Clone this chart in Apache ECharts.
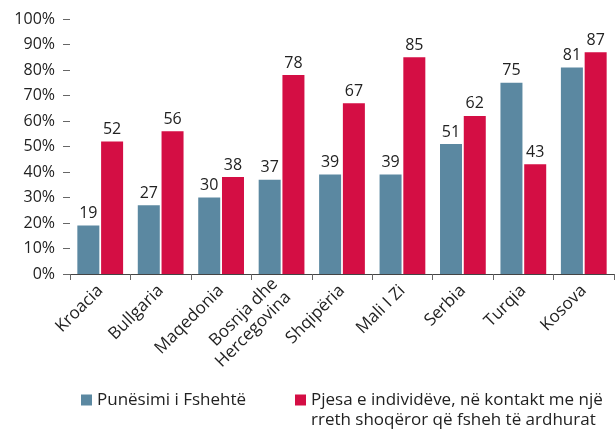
<!DOCTYPE html>
<html>
<head>
<meta charset="utf-8">
<script src="https://cdn.jsdelivr.net/npm/echarts@6/dist/echarts.min.js"></script>
<style>html,body{margin:0;padding:0;background:#fff}#c{width:616px;height:434px}</style>
</head>
<body>
<div id="c"></div>
<script>
const categories = ['Kroacia', 'Bullgaria', 'Maqedonia', 'Bosnja dhe\nHercegovina', 'Shqipëria', 'Mali I Zi', 'Serbia', 'Turqia', 'Kosova'];
const informalEmployment = [19, 27, 30, 37, 39, 39, 51, 75, 81];
const socialCircle = [52, 56, 38, 78, 67, 85, 62, 43, 87];
const seriesNames = ['Punësimi i Fshehtë', 'Pjesa e individëve, në kontakt me një\nrreth shoqëror që fsheh të ardhurat'];
const yTicks = [0, 10, 20, 30, 40, 50, 60, 70, 80, 90, 100];

const FONT = '"Open Sans", "Noto Sans", sans-serif';
const chart = echarts.init(document.getElementById('c'), null, {renderer: 'canvas'});
const labelStyle = {show: true, position: 'top', distance: 4, color: '#222', fontSize: 16, fontFamily: FONT};
chart.setOption({
  animation: false,
  textStyle: {fontFamily: FONT},
  grid: {left: 70, right: 2, top: 19, bottom: 160},
  xAxis: {
    type: 'category',
    data: categories,
    axisLine: {show: true, lineStyle: {color: '#444', width: 1}},
    axisTick: {show: true, length: 6, lineStyle: {color: '#666'}},
    axisLabel: {rotate: 45, margin: 14, color: '#222', fontSize: 17, fontFamily: FONT, lineHeight: 19, interval: 0}
  },
  yAxis: {
    type: 'value',
    min: yTicks[0], max: yTicks[yTicks.length - 1], interval: 10,
    axisLine: {show: false},
    axisTick: {show: true, length: 7, lineStyle: {color: '#666'}},
    splitLine: {show: false},
    axisLabel: {formatter: '{value}%', margin: 15, color: '#222', fontSize: 16, fontFamily: FONT}
  },
  legend: [
    {
      data: [seriesNames[0]], left: 81, top: 390, padding: 0, orient: 'horizontal',
      itemWidth: 11, itemHeight: 11, itemGap: 5, icon: 'rect',
      textStyle: {color: '#222', fontSize: 17, fontFamily: FONT, lineHeight: 20}
    },
    {
      data: [seriesNames[1]], left: 295, top: 370, padding: 0, orient: 'horizontal',
      itemWidth: 11, itemHeight: 11, itemGap: 5, icon: 'rect',
      formatter: function (name) { return ' \n' + name; },
      textStyle: {color: '#222', fontSize: 17, fontFamily: FONT, lineHeight: 20}
    }
  ],
  series: [
    {name: seriesNames[0], type: 'bar', data: informalEmployment, barWidth: 22, barGap: '8%',
     itemStyle: {color: '#5b88a1'}, label: labelStyle},
    {name: seriesNames[1], type: 'bar', data: socialCircle, barWidth: 22,
     itemStyle: {color: '#d40e44'}, label: labelStyle}
  ]
});
</script>
</body>
</html>
